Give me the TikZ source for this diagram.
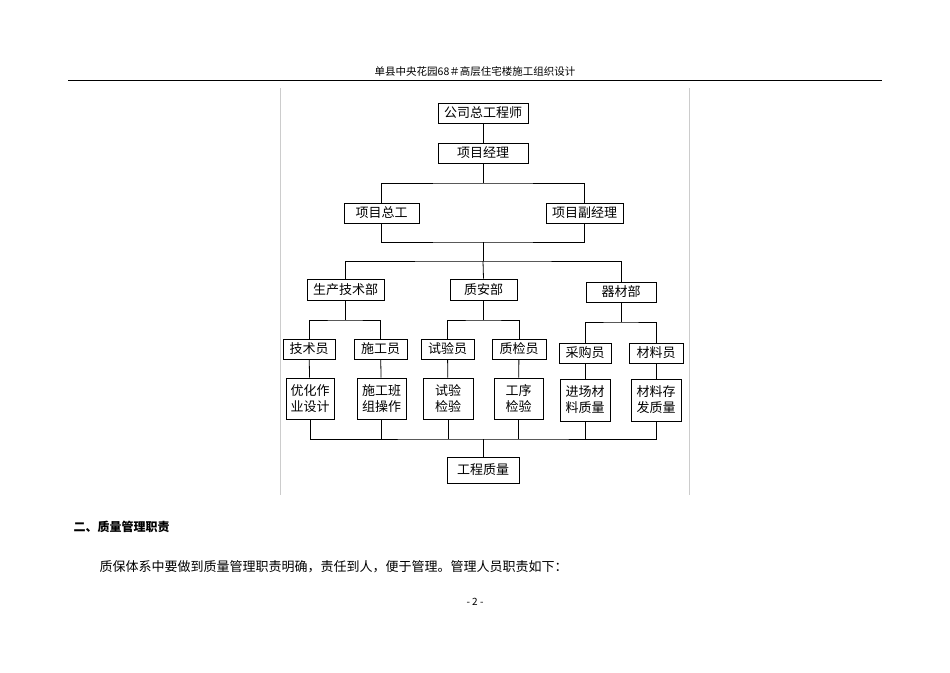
\documentclass[tikz,border=0pt]{standalone}
\usepackage{fontspec}
\setmainfont{Noto Sans CJK SC}
\begin{document}
\begin{tikzpicture}[x=1pt,y=-1pt,
  bx/.style={draw,line width=0.8pt,inner sep=0pt,font=\fontsize{13}{16}\selectfont,align=center},
  ln/.style={line width=0.8pt}]
\useasboundingbox (0,0) rectangle (950,672);
\fill[white] (0,0) rectangle (950,672);
% header
\node[font=\fontsize{10.5}{12}\selectfont] (hd) at (475,72) {单县中央花园68＃高层住宅楼施工组织设计};
\draw[line width=1pt] (68,80) -- (882,80);
\draw[gray!40] (280,88) -- (280,495);
\draw[gray!40] (689,88) -- (689,495);
% macro-like boxes
\node[bx,minimum width=90,minimum height=20] (gz) at (483,113) {公司总工程师};
\node[bx,minimum width=90,minimum height=20] (jl) at (483,153) {项目经理};
\node[bx,minimum width=75,minimum height=20] (zg) at (381.5,213) {项目总工};
\node[bx,minimum width=77,minimum height=20] (fj) at (584.5,213) {项目副经理};
\node[bx,minimum width=77,minimum height=21] (sc) at (345.5,289.5) {生产技术部};
\node[bx,minimum width=67,minimum height=21] (za) at (483.5,289.5) {质安部};
\node[bx,minimum width=70,minimum height=20] (qc) at (621,292) {器材部};
\node[bx,minimum width=52,minimum height=20] (jsy) at (309,349) {技术员};
\node[bx,minimum width=53,minimum height=20] (sgy) at (380.5,349) {施工员};
\node[bx,minimum width=53,minimum height=20] (syy) at (447.5,349) {试验员};
\node[bx,minimum width=54,minimum height=20] (zjy) at (519,349) {质检员};
\node[bx,minimum width=52,minimum height=20] (cgy) at (585,353) {采购员};
\node[bx,minimum width=54,minimum height=20] (cly) at (656,353) {材料员};
\node[bx,minimum width=48,minimum height=41] (a1) at (310,398.5) {优化作\\业设计};
\node[bx,minimum width=49,minimum height=41] (a2) at (381.5,398.5) {施工班\\组操作};
\node[bx,minimum width=50,minimum height=41] (a3) at (448,398.5) {试验\\检验};
\node[bx,minimum width=49,minimum height=41] (a4) at (518.5,398.5) {工序\\检验};
\node[bx,minimum width=50,minimum height=42] (a5) at (585,400) {进场材\\料质量};
\node[bx,minimum width=50,minimum height=42] (a6) at (656,400) {材料存\\发质量};
\node[bx,minimum width=72,minimum height=26] (gc) at (483,470) {工程质量};
% connectors
\draw[ln] (gz) -- (jl);
\draw[ln] (jl.south) -- (483,183) coordinate (h1);
\draw[ln] (zg.north) |- (h1) -| (fj.north);
\draw[ln] (zg.south) |- (483,242) coordinate (h2) -| (fj.south);
\draw[ln] (h2) -- (483,261) coordinate (h3);
\draw[ln] (sc.north) |- (h3) -| (qc.north);
\draw[ln] (h3) -- (za.north);
\draw[ln] (sc.south) -- (345.5,320) coordinate (s1);
\draw[ln] (jsy.north) |- (s1) -| (sgy.north);
\draw[ln] (za.south) -- (483.5,320) coordinate (s2);
\draw[ln] (syy.north) |- (s2) -| (zjy.north);
\draw[ln] (qc.south) -- (621,322) coordinate (s3);
\draw[ln] (cgy.north) |- (s3) -| (cly.north);
\foreach \u/\l in {jsy/a1,sgy/a2,syy/a3,zjy/a4,cgy/a5,cly/a6} \draw[ln] (\u) -- (\l);
\draw[ln] (a1.south) |- (483,439) coordinate (b1) -| (a6.south);
\foreach \l in {a2,a3,a4,a5} \draw[ln] (\l.south) -- (\l.south |- b1);
\draw[ln] (b1) -- (gc.north);
% text
\node[anchor=west,font=\fontsize{12}{14}\selectfont\bfseries] (t1) at (70,527) {二、质量管理职责};
\node[anchor=west,font=\fontsize{13}{16}\selectfont] (t2) at (96,567) {质保体系中要做到质量管理职责明确，责任到人，便于管理。管理人员职责如下：};
\node[font=\fontsize{10}{12}\selectfont] (pg) at (475,602) {- 2 -};
\end{tikzpicture}
\end{document}
